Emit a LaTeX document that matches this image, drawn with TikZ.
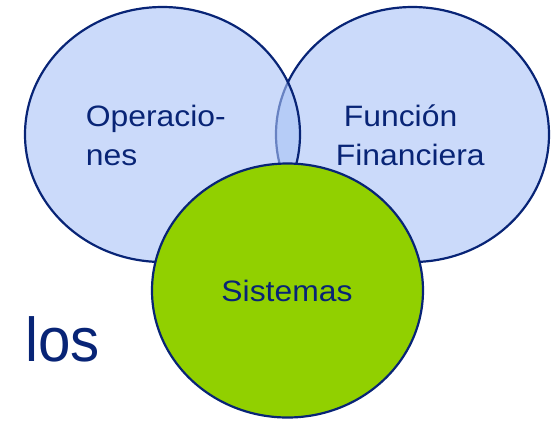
\documentclass[tikz,border=0pt]{standalone}
\usepackage{fontspec}
\setmainfont{Liberation Sans}
\newfontfamily\lblfont[FakeStretch=1.08]{Liberation Sans}
\newfontfamily\bigfont[FakeStretch=0.94]{Liberation Sans}
\usetikzlibrary{shapes.geometric}
\definecolor{navy}{RGB}{8,36,118}
\definecolor{lblue}{RGB}{168,194,246}
\definecolor{lgreen}{RGB}{145,208,0}
\tikzset{
  bluecirc/.style={ellipse, draw=navy, line width=1.1pt, fill=lblue, fill opacity=0.6, draw opacity=1, inner sep=0pt},
  greencirc/.style={ellipse, draw=navy, line width=1.1pt, fill=lgreen, inner sep=0pt},
  lbl/.style={text=navy, inner sep=0pt, font=\lblfont\fontsize{14.75pt}{18pt}\selectfont, text opacity=1},
  big/.style={text=navy, inner sep=0pt, font=\bigfont\fontsize{31pt}{36pt}\selectfont}
}
\begin{document}
\begin{tikzpicture}[x=0.5pt,y=-0.5pt]
\useasboundingbox (0,0) rectangle (554,420);
\node[bluecirc, minimum width=136.5pt, minimum height=127.5pt] (fin) at (412.5,134.5) {};
\node[bluecirc, minimum width=137.5pt, minimum height=127.5pt] (ops) at (162.5,134.5) {};
\node[greencirc, minimum width=135.5pt, minimum height=127pt] (sis) at (287.5,290.5) {};
\node[lbl, anchor=base west] (opsA) at (85.5,126.5) {Operacio-};
\node[lbl, anchor=base west] (opsB) at (85.5,165) {nes};
\node[lbl, anchor=base west] (finA) at (343.5,126.5) {Función};
\node[lbl, anchor=base west] (finB) at (335.5,165) {Financiera};
\node[lbl, anchor=base] (sisT) at (287,301.5) {Sistemas};
\node[big, anchor=base west] (los) at (25,361) {los};
\end{tikzpicture}
\end{document}
